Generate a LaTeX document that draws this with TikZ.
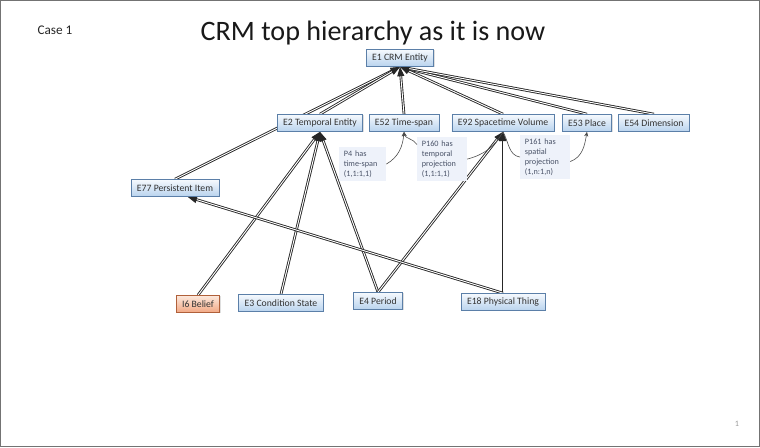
\documentclass[tikz,border=0pt]{standalone}
\usepackage{fontspec}
\setmainfont{Carlito}
\usetikzlibrary{arrows.meta,backgrounds,shadows}

\definecolor{boxline}{HTML}{5B7FA8}
\definecolor{boxtop}{HTML}{F5F9FD}
\definecolor{boxbot}{HTML}{B9D3EE}
\definecolor{belline}{HTML}{B0603A}
\definecolor{beltop}{HTML}{FCE8DC}
\definecolor{belbot}{HTML}{F2A884}
\definecolor{propfill}{HTML}{EEF2FA}
\definecolor{proptext}{HTML}{4A5368}

\tikzset{
  cls/.style={draw=boxline, line width=0.6pt, top color=boxtop, bottom color=boxbot,
    text=black!80, font=\fontsize{8.3}{10}\selectfont, minimum height=14.5pt,
    inner xsep=5pt, drop shadow={opacity=0.25, shadow xshift=0.8pt, shadow yshift=-0.8pt}},
  belief/.style={cls, draw=belline, top color=beltop, bottom color=belbot},
  prop/.style={fill=propfill, text=proptext, font=\fontsize{7}{8.5}\selectfont,
    align=left, inner xsep=4pt, inner ysep=3pt, anchor=north west},
  isa/.style={draw=black!85, line width=0.75pt, double=white, double distance=0.8pt,
    -{Triangle[length=8pt,width=6pt]}},
  link/.style={draw=black!70, line width=0.5pt, -{Stealth[length=4pt,width=3.5pt]}}
}

\begin{document}
\begin{tikzpicture}[x=0.03cm,y=0.03cm]
\useasboundingbox (0,0) rectangle (760,-447);
\draw[black!55] (0.5,-0.5) rectangle (759.5,-446.5);

\node[font=\fontsize{11.3}{13}\selectfont, text=black!85] (case) at (55,-30) {Case 1};
\node[font=\fontsize{24}{28}\selectfont, text=black!90] (title) at (373,-33) {CRM top hierarchy as it is now};
\node[font=\fontsize{7}{8}\selectfont, text=black!40] (pagenum) at (737,-424) {1};

% classes
\node[cls] (e1) at (400,-58) {E1 CRM Entity};
\node[cls] (e2) at (320,-123) {E2 Temporal Entity};
\node[cls] (e52) at (404,-123) {E52 Time-span};
\node[cls] (e92) at (503,-123) {E92 Spacetime Volume};
\node[cls] (e53) at (587,-123) {E53 Place};
\node[cls] (e54) at (654,-123) {E54 Dimension};
\node[cls] (e77) at (175,-188) {E77 Persistent Item};
\node[belief] (i6) at (198,-304) {I6 Belief};
\node[cls] (e3) at (281,-303) {E3 Condition State};
\node[cls] (e4) at (378,-301) {E4 Period};
\node[cls] (e18) at (503,-302) {E18 Physical Thing};

% properties
\node[prop, text width=32pt] (p4) at (339,-147) {P4 has\\time-span\\(1,1:1,1)};
\node[prop, text width=34.5pt] (p160) at (417,-137) {P160 has\\temporal\\projection\\(1,1:1,1)};
\node[prop, text width=34.5pt] (p161) at (520,-135) {P161 has\\spatial\\projection\\(1,n:1,n)};

\begin{pgfonlayer}{background}
\draw[isa] (e77.north) -- (e1.south);
\draw[isa] (e2.north) -- (e1.south);
\draw[isa] (e52.north) -- (e1.south);
\draw[isa] (e92.north) -- (e1.south);
\draw[isa] (e53.north) -- (e1.south);
\draw[isa] (e54.north) -- (e1.south);
\draw[isa] (i6.north) -- (e2.south);
\draw[isa] (e3.north) -- (e2.south);
\draw[isa] (e4.north) -- (e2.south);
\draw[isa] (e4.north) -- (e92.south);
\draw[isa] (e18.north) -- (e92.south);
\draw[isa] (e18.north) -- (e77.-35);
\end{pgfonlayer}

\draw[link] (p4.east) to[out=30,in=-95] (e52.south);
\draw[link] (p160.150) to[out=120,in=-80] (e52.south);
\draw[link, -] (p160.east) to[out=15,in=-120] (e92.south);
\draw[link, -] (e92.south) to[out=-60,in=170] (p161.west);
\draw[link] (p161.-10) to[out=20,in=-100] (e53.south);
\end{tikzpicture}
\end{document}
